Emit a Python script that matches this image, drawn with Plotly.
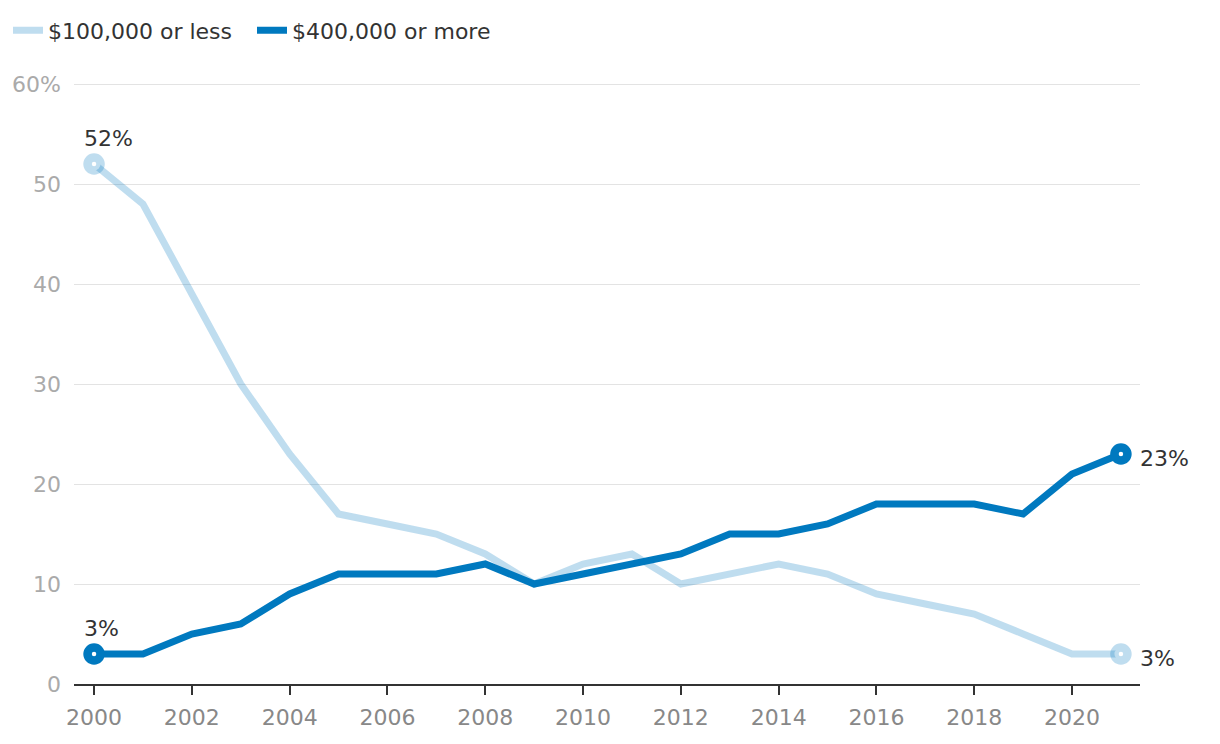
import plotly.graph_objects as go

years = list(range(2000, 2022))
low = [52, 48, 39, 30, 23, 17, 16, 15, 13, 10, 12, 13, 10, 11, 12, 11, 9, 8, 7, 5, 3, 3]
high = [3, 3, 5, 6, 9, 11, 11, 11, 12, 10, 11, 12, 13, 15, 15, 16, 18, 18, 18, 17, 21, 23]
names = ["$100,000 or less", "$400,000 or more"]
colors = ["rgba(0,121,191,0.25)", "#0079bf"]
ytick_vals = [0, 10, 20, 30, 40, 50, 60]
ytick_text = ["0", "10", "20", "30", "40", "50", "60%"]
xtick_vals = list(range(2000, 2021, 2))

FONT = "DejaVu Sans, sans-serif"
FS = 22

fig = go.Figure()
for name, vals, col in zip(names, [low, high], colors):
    fig.add_trace(go.Scatter(x=years, y=vals, mode="lines", name=name,
                             line=dict(color=col, width=7), cliponaxis=False))
for name, vals, col in zip(names, [low, high], colors):
    fig.add_trace(go.Scatter(x=[years[0], years[-1]], y=[vals[0], vals[-1]], mode="markers",
                             showlegend=False, hoverinfo="skip", cliponaxis=False,
                             marker=dict(size=13, color="white", line=dict(color=col, width=8.5))))

annos = [
    (years[0], low[0], f"{low[0]}%", "above"),
    (years[0], high[0], f"{high[0]}%", "above"),
    (years[-1], high[-1], f"{high[-1]}%", "right"),
    (years[-1], low[-1], f"{low[-1]}%", "right"),
]
for x, y, t, pos in annos:
    if pos == "above":
        fig.add_annotation(x=x, y=y, text=t, showarrow=False, xanchor="left", yanchor="middle",
                           xshift=-12, yshift=26, font=dict(size=FS, color="#333333", family=FONT))
    else:
        fig.add_annotation(x=x, y=y, text=t, showarrow=False, xanchor="left", yanchor="middle",
                           xshift=17, yshift=-4, font=dict(size=FS, color="#333333", family=FONT))

fig.update_layout(
    width=1212, height=736,
    margin=dict(l=66, r=80, t=74, b=60),
    paper_bgcolor="white", plot_bgcolor="white",
    font=dict(family=FONT, size=FS, color="#333333"),
    showlegend=True,
    legend=dict(orientation="h", xref="container", yref="container", x=0.0, y=0.998,
                xanchor="left", yanchor="top", font=dict(size=FS, color="#333333"),
                itemwidth=30, entrywidth=199, entrywidthmode="pixels",
                tracegroupgap=0, bgcolor="rgba(0,0,0,0)"),
    xaxis=dict(range=[1999.59, 2021.39], tickvals=xtick_vals, showgrid=False,
               showline=True, linecolor="#333333", linewidth=2,
               ticks="outside", ticklen=9, tickwidth=2, tickcolor="#333333",
               tickfont=dict(size=FS, color="#888888"), zeroline=False,
               ticklabelstandoff=4, automargin=False),
    yaxis=dict(range=[0, 60.2], tickvals=ytick_vals, ticktext=ytick_text,
               showgrid=True, gridcolor="#e3e3e3", gridwidth=1, zeroline=False,
               tickfont=dict(size=FS, color="#aaaaaa"), ticks="", ticklabelstandoff=12,
               automargin=False),
)

fig.write_html("out.html")
